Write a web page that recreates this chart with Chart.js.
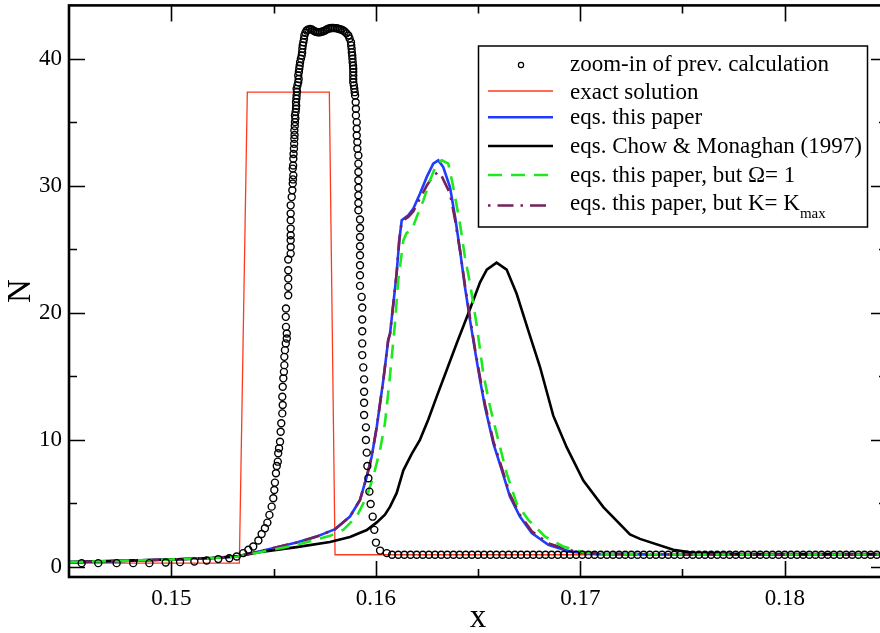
<!DOCTYPE html>
<html>
<head>
<meta charset="utf-8">
<title>N vs x</title>
<script src="https://cdn.jsdelivr.net/npm/chart.js@4.4.1/dist/chart.umd.min.js"></script>
<style>
  html, body { margin: 0; padding: 0; background: #fff; overflow: hidden; }
  #wrap { width: 900px; height: 633px; }
</style>
</head>
<body>
<div id="wrap"><canvas id="shockChart" width="900" height="633"></canvas></div>
<script>
// --- AXES ---
const xRange = [0.145, 0.185];
const nRange = [-0.8, 44.2];
const xTickValues = [0.15, 0.16, 0.17, 0.18];
const xTickLabels = ['0.15', '0.16', '0.17', '0.18'];
const xMinorTicks = [0.155, 0.165, 0.175];
const nTickValues = [0, 10, 20, 30, 40];
const nTickLabels = ['0', '10', '20', '30', '40'];
const nMinorTicks = [5, 15, 25, 35];

// --- SERIES NAMES (legend order) ---
const seriesNames = [
    'zoom-in of prev. calculation',
    'exact solution',
    'eqs. this paper',
    'eqs. Chow & Monaghan (1997)',
    'eqs. this paper, but \u03A9= 1',
    'eqs. this paper, but K= K'
];
const lastNameSub = 'max';

// --- zoom-in of previous calculation (particles, [x, N]) ---
const prevCalc = [
    [0.14562,0.29],[0.14643,0.29],[0.14733,0.29],[0.14814,0.29],[0.14893,0.29],[0.14973,0.34],
    [0.15043,0.37],[0.15113,0.42],[0.15173,0.50],[0.15230,0.61],[0.15284,0.68],
    [0.15320,0.81],[0.15352,1.08],[0.15377,1.34],[0.15401,1.60],[0.15426,2.07],[0.15442,2.59],
    [0.15458,3.04],[0.15470,3.48],[0.15480,4.09],[0.15491,4.74],[0.15499,5.40],[0.15504,6.05],
    [0.15507,6.63],[0.15512,7.37],[0.15516,7.94],[0.15521,8.28],[0.15523,8.94],[0.15527,9.33],
    [0.15532,9.85],[0.15535,10.64],[0.15538,11.30],[0.15543,12.08],[0.15545,12.74],[0.15543,13.39],
    [0.15545,14.18],[0.15548,14.84],[0.15551,15.35],[0.15553,15.88],[0.15553,16.53],[0.15556,17.06],
    [0.15560,17.59],[0.15565,17.98],[0.15565,18.37],[0.15561,18.89],[0.15560,19.68],[0.15561,20.34],
    [0.15572,21.38],[0.15572,22.04],[0.15572,22.70],[0.15572,23.35],[0.15572,24.19],[0.15584,24.66],
    [0.15584,25.18],[0.15584,25.71],[0.15584,26.10],[0.15584,26.63],[0.15584,27.28],[0.15584,27.81],
    [0.15584,28.46],[0.15589,29.11],[0.15592,29.64],[0.15594,30.17],[0.15595,30.50],[0.15597,30.82],
    [0.15594,31.35],[0.15596,31.60],[0.15597,32.13],[0.15598,32.50],[0.15600,32.92],[0.15601,33.30],
    [0.15602,33.70],[0.15603,34.00],[0.15602,34.36],[0.15604,34.70],[0.15605,35.01],[0.15607,35.30],
    [0.15605,35.54],[0.15608,35.80],[0.15610,36.06],[0.15611,36.30],[0.15610,36.58],[0.15612,36.85],
    [0.15613,37.11],[0.15615,37.40],[0.15613,37.63],[0.15617,37.90],[0.15621,38.15],[0.15623,38.40],
    [0.15621,38.68],[0.15624,38.95],[0.15626,39.21],[0.15628,39.45],[0.15630,39.73],[0.15634,40.00],
    [0.15638,40.25],[0.15640,40.50],[0.15641,40.78],[0.15643,41.05],[0.15646,41.30],[0.15649,41.55],
    [0.15651,41.83],[0.15656,42.05],
    // dense plateau
    [0.15662,42.22],[0.15670,42.30],[0.15679,42.35],[0.15687,42.30],[0.15695,42.22],[0.15703,42.14],
    [0.15711,42.10],[0.15719,42.08],[0.15727,42.09],[0.15735,42.12],[0.15744,42.17],[0.15752,42.22],
    [0.15760,42.30],[0.15768,42.36],[0.15776,42.40],[0.15784,42.42],[0.15792,42.42],[0.15800,42.41],
    [0.15809,42.40],[0.15817,42.36],[0.15825,42.32],[0.15833,42.28],[0.15841,42.22],[0.15849,42.12],
    [0.15857,42.00],[0.15866,41.83],[0.15872,41.60],[0.15879,41.30],
    // falling side
    [0.15880,41.05],[0.15882,40.78],[0.15883,40.50],[0.15885,40.25],[0.15886,40.00],[0.15887,39.73],
    [0.15889,39.45],[0.15890,39.21],[0.15890,38.95],[0.15890,38.68],[0.15890,38.40],[0.15890,38.15],
    [0.15893,37.90],[0.15895,37.63],[0.15897,37.37],[0.15899,37.11],[0.15902,36.58],[0.15903,36.06],
    [0.15903,35.54],[0.15907,35.01],[0.15907,34.49],[0.15907,33.96],[0.15910,33.44],[0.15910,32.92],
    [0.15915,32.39],[0.15915,31.74],[0.15915,31.08],[0.15915,30.43],[0.15915,29.85],[0.15915,29.25],
    [0.15915,28.64],[0.15915,28.07],[0.15923,27.34],[0.15923,26.68],[0.15923,25.97],[0.15923,25.24],
    [0.15923,24.53],[0.15923,23.74],[0.15923,22.96],[0.15923,22.12],[0.15931,21.25],[0.15934,20.42],
    [0.15934,19.47],[0.15934,18.55],[0.15934,17.59],[0.15934,16.67],[0.15939,15.70],[0.15943,14.76],
    [0.15943,13.78],[0.15943,12.92],[0.15943,11.95],[0.15952,10.98],[0.15952,9.98],[0.15956,8.99],
    [0.15959,7.94],[0.15964,6.97],[0.15969,5.92],[0.15975,4.95],[0.15985,3.95],[0.15993,2.91],
    [0.16001,1.91],[0.16021,1.28],[0.16054,1.08],
    // undisturbed region
    [0.1608,0.95],[0.1611,0.95],[0.1614,0.95],[0.1617,0.95],[0.1620,0.95],[0.1623,0.95],[0.1626,0.95],
    [0.1629,0.95],[0.1632,0.95],[0.1635,0.95],[0.1638,0.95],[0.1641,0.95],[0.1644,0.95],[0.1647,0.95],
    [0.1650,0.95],[0.1653,0.95],[0.1656,0.95],[0.1659,0.95],[0.1662,0.95],[0.1665,0.95],[0.1668,0.95],
    [0.1671,0.95],[0.1674,0.95],[0.1677,0.95],[0.1680,0.95],[0.1683,0.95],[0.1686,0.95],[0.1689,0.95],
    [0.1692,0.95],[0.1695,0.95],[0.1698,0.95],[0.1701,0.95],[0.1704,0.95],[0.1707,0.95],[0.1710,0.95],
    [0.1713,0.95],[0.1716,0.95],[0.1719,0.95],[0.1722,0.95],[0.1725,0.95],[0.1728,0.95],[0.1731,0.95],
    [0.1734,0.95],[0.1737,0.95],[0.1740,0.95],[0.1743,0.95],[0.1746,0.95],[0.1749,0.95],[0.1752,0.95],
    [0.1755,0.95],[0.1758,0.95],[0.1761,0.95],[0.1764,0.95],[0.1767,0.95],[0.1770,0.95],[0.1773,0.95],
    [0.1776,0.95],[0.1779,0.95],[0.1782,0.95],[0.1785,0.95],[0.1788,0.95],[0.1791,0.95],[0.1794,0.95],
    [0.1797,0.95],[0.1800,0.95],[0.1803,0.95],[0.1806,0.95],[0.1809,0.95],[0.1812,0.95],[0.1815,0.95],
    [0.1818,0.95],[0.1821,0.95],[0.1824,0.95],[0.1827,0.95],[0.1830,0.95],[0.1833,0.95],[0.1836,0.95],
    [0.1839,0.95],[0.1842,0.95],[0.1845,0.95],[0.1848,0.95]
];

// --- exact solution ---
const exactX = [0.145, 0.15333, 0.15372, 0.15773, 0.15801, 0.185];
const exactN = [0.29, 0.29, 37.37, 37.37, 0.95, 0.95];

// --- eqs. this paper ---
const paperX = [0.1450, 0.1475, 0.1500, 0.1520, 0.15322, 0.1545, 0.15613, 0.15711, 0.15801, 0.15874,
    0.15923, 0.15956, 0.1598, 0.16005, 0.16037, 0.16061, 0.1607, 0.16086, 0.16102, 0.16115,
    0.16127, 0.16159, 0.16184, 0.16216, 0.16249, 0.16281, 0.16306, 0.1633, 0.16363, 0.16388,
    0.16412, 0.16436, 0.16461, 0.16485, 0.1651, 0.16534, 0.16575, 0.16616, 0.16656, 0.16705,
    0.16763, 0.16844, 0.1695, 0.1708, 0.1750, 0.1850];
const paperN = [0.37, 0.47, 0.58, 0.7, 0.82, 1.28, 1.91, 2.38, 2.96, 3.96,
    5.27, 7.1, 8.67, 11.03, 14.7, 17.85, 18.37, 20.73, 23.09, 25.7,
    27.28, 27.67, 28.2, 29.38, 30.68, 31.74, 32.0, 31.47, 29.9, 27.54,
    24.92, 22.04, 19.42, 17.06, 14.7, 12.6, 9.72, 7.63, 5.53, 3.96,
    2.65, 1.73, 1.2, 1.02, 0.97, 0.97];

// --- eqs. Chow & Monaghan (1997) ---
const chowX = [0.1450, 0.1475, 0.1500, 0.1520, 0.15322, 0.1545, 0.15613, 0.15776, 0.15874, 0.15956,
    0.16005, 0.16045, 0.1607, 0.16102, 0.16135, 0.16176, 0.16216, 0.16257, 0.16298, 0.16347,
    0.16396, 0.16425, 0.16461, 0.1651, 0.16543, 0.16591, 0.1664, 0.16689, 0.16746, 0.16803,
    0.16868, 0.16934, 0.17015, 0.17113, 0.17243, 0.17292, 0.17455, 0.17553, 0.1780, 0.1850];
const chowN = [0.37, 0.47, 0.58, 0.7, 0.82, 1.2, 1.55, 1.95, 2.35, 2.9,
    3.5, 4.1, 4.74, 5.8, 7.6, 8.9, 10.0, 11.6, 13.4, 15.5,
    17.6, 18.8, 20.3, 22.4, 23.4, 23.95, 23.4, 21.5, 18.6, 15.75,
    11.9, 9.4, 6.8, 4.7, 2.55, 2.2, 1.35, 1.1, 1.0, 1.0];

// --- eqs. this paper, Omega = 1 ---
const omegaX = [0.1450, 0.1475, 0.1500, 0.1520, 0.15322, 0.1545, 0.15613, 0.15776, 0.15841, 0.15907,
    0.15956, 0.15988, 0.16021, 0.16045, 0.16066, 0.16094, 0.1611, 0.16135, 0.16151, 0.16176,
    0.162, 0.16233, 0.16265, 0.16298, 0.16323, 0.16355, 0.16379, 0.16412, 0.16436, 0.16461,
    0.16494, 0.16526, 0.16559, 0.16599, 0.1664, 0.16689, 0.16746, 0.16828, 0.16917, 0.17015,
    0.17113, 0.1750, 0.1850];
const omegaN = [0.37, 0.47, 0.58, 0.7, 0.8, 1.2, 1.73, 2.44, 2.91, 3.96,
    5.53, 7.1, 9.2, 11.3, 14.44, 19.16, 22.56, 25.7, 26.28, 26.5,
    27.54, 28.85, 30.42, 31.74, 32.0, 31.74, 29.9, 27.0, 24.4, 22.3,
    19.0, 15.2, 12.6, 9.98, 7.37, 5.0, 3.7, 2.38, 1.6, 1.15,
    1.02, 0.97, 0.97];

// --- eqs. this paper, K = Kmax ---
const kmaxX = [0.1450, 0.1475, 0.1500, 0.1520, 0.15322, 0.1545, 0.15613, 0.15711, 0.15801, 0.15874,
    0.15923, 0.15956, 0.1598, 0.16005, 0.16037, 0.16061, 0.1607, 0.16086, 0.16102, 0.16115,
    0.16127, 0.16159, 0.16184, 0.16216, 0.16249, 0.16281, 0.16306, 0.16318, 0.1633, 0.16363,
    0.16388, 0.16412, 0.16436, 0.16461, 0.16485, 0.1651, 0.16534, 0.16575, 0.16616, 0.16656,
    0.16705, 0.16763, 0.16844, 0.1695, 0.1708, 0.1750, 0.1850];
const kmaxN = [0.37, 0.47, 0.58, 0.7, 0.82, 1.28, 1.91, 2.38, 2.96, 3.96,
    5.27, 7.1, 8.67, 11.03, 14.7, 17.85, 18.37, 20.73, 23.09, 25.7,
    27.2, 27.55, 28.0, 29.0, 30.0, 30.8, 31.08, 30.9, 30.5, 29.4,
    27.3, 24.9, 22.2, 19.6, 17.2, 14.9, 12.8, 9.9, 7.8, 5.7,
    4.1, 2.8, 1.85, 1.3, 1.03, 0.97, 0.97];

const SERIF = '"Liberation Serif", "DejaVu Serif", serif';

function toPoints(xs, ys) {
    return xs.map((x, i) => ({ x: x, y: ys[i] }));
}

function lineSet(label, xs, ys, color, width, dash, order) {
    return {
        label: label,
        data: toPoints(xs, ys),
        borderColor: color,
        borderWidth: width,
        borderDash: dash,
        pointRadius: 0,
        fill: false,
        tension: 0,
        order: order
    };
}

// --- FRAME WITH INWARD TICKS ON ALL FOUR SIDES ---
const framePlugin = {
    id: 'frame',
    afterDatasetsDraw(chart) {
        const { ctx, chartArea: a, scales } = chart;
        const xs = scales.x, ys = scales.y;
        ctx.save();
        ctx.strokeStyle = '#000';
        ctx.lineWidth = 1.6;
        ctx.beginPath();
        const xTick = (v, len) => {
            const p = Math.round(xs.getPixelForValue(v)) + 0.5;
            ctx.moveTo(p, a.bottom); ctx.lineTo(p, a.bottom - len);
            ctx.moveTo(p, a.top); ctx.lineTo(p, a.top + len);
        };
        const yTick = (v, len) => {
            const p = Math.round(ys.getPixelForValue(v)) + 0.5;
            ctx.moveTo(a.left, p); ctx.lineTo(a.left + len, p);
            ctx.moveTo(a.right, p); ctx.lineTo(a.right - len, p);
        };
        xTickValues.forEach(v => xTick(v, 16));
        xMinorTicks.forEach(v => xTick(v, 8));
        nTickValues.forEach(v => yTick(v, 16));
        nMinorTicks.forEach(v => yTick(v, 8));
        ctx.stroke();
        ctx.lineWidth = 2.6;
        ctx.strokeRect(a.left, a.top, a.right - a.left, a.bottom - a.top);
        ctx.restore();
    }
};

// --- BOXED LEGEND (drawn from the dataset styles) ---
const legendPlugin = {
    id: 'boxLegend',
    afterDraw(chart) {
        const ctx = chart.ctx;
        const box = { left: 478.5, top: 46, right: 867.5, bottom: 227 };
        const symbolY = [65, 91, 117.3, 146, 175, 205.5];
        const textY = [70.5, 99, 123.5, 153, 181.5, 210];
        ctx.save();
        ctx.fillStyle = '#fff';
        ctx.fillRect(box.left, box.top, box.right - box.left, box.bottom - box.top);
        ctx.strokeStyle = '#000';
        ctx.lineWidth = 1.5;
        ctx.strokeRect(box.left, box.top, box.right - box.left, box.bottom - box.top);

        chart.data.datasets.forEach((ds, i) => {
            const y = symbolY[i];
            if (ds.showLine === false) {
                ctx.beginPath();
                ctx.arc(521, y, 2.6, 0, Math.PI * 2);
                ctx.lineWidth = 1.2;
                ctx.strokeStyle = '#000';
                ctx.stroke();
            } else {
                ctx.beginPath();
                ctx.setLineDash(ds.borderDash || []);
                ctx.lineWidth = ds.borderWidth;
                ctx.strokeStyle = ds.borderColor;
                ctx.moveTo(488, y);
                ctx.lineTo(553, y);
                ctx.stroke();
                ctx.setLineDash([]);
            }
            ctx.fillStyle = '#000';
            ctx.font = '23px ' + SERIF;
            ctx.textBaseline = 'alphabetic';
            ctx.textAlign = 'left';
            ctx.fillText(ds.label, 570, textY[i]);
            if (i === seriesNames.length - 1) {
                const w = ctx.measureText(ds.label).width;
                ctx.font = '15px ' + SERIF;
                ctx.fillText(lastNameSub, 570 + w, textY[i] + 8);
            }
        });
        ctx.restore();
    }
};

const ctx = document.getElementById('shockChart').getContext('2d');

new Chart(ctx, {
    type: 'line',
    data: {
        datasets: [
            {
                label: seriesNames[0],
                data: prevCalc.map(p => ({ x: p[0], y: p[1] })),
                showLine: false,
                pointStyle: 'circle',
                pointRadius: 3.5,
                pointBorderWidth: 1.4,
                pointBorderColor: '#000',
                pointBackgroundColor: 'rgba(255,255,255,0)',
                order: 0
            },
            lineSet(seriesNames[1], exactX, exactN, '#ff3a1c', 1.3, [], 5),
            lineSet(seriesNames[2], paperX, paperN, '#1f3cff', 2.6, [], 4),
            lineSet(seriesNames[3], chowX, chowN, '#000000', 2.6, [], 3),
            lineSet(seriesNames[4], omegaX, omegaN, '#1ee81e', 2.6, [14, 9], 1),
            lineSet(seriesNames[5], kmaxX, kmaxN, '#74215e', 2.6, [2.5, 7, 16, 7], 2)
        ]
    },
    options: {
        responsive: false,
        animation: false,
        devicePixelRatio: 1,
        layout: { padding: { top: 5, right: 13, left: 0, bottom: 0 } },
        plugins: {
            legend: { display: false },
            tooltip: { enabled: false }
        },
        scales: {
            x: {
                type: 'linear',
                min: xRange[0],
                max: xRange[1],
                grid: { display: false, drawTicks: false },
                border: { display: false },
                afterBuildTicks: s => { s.ticks = xTickValues.map(v => ({ value: v })); },
                afterFit: s => { s.height = 56; s.paddingLeft = 0; s.paddingRight = 0; },
                ticks: {
                    color: '#000',
                    padding: 8,
                    maxRotation: 0,
                    autoSkip: false,
                    font: { family: SERIF, size: 23 },
                    callback: (v, i) => xTickLabels[i]
                },
                title: {
                    display: true,
                    text: 'x',
                    color: '#000',
                    padding: 0,
                    font: { family: SERIF, size: 33, lineHeight: 0.9 }
                }
            },
            y: {
                type: 'linear',
                min: nRange[0],
                max: nRange[1],
                grid: { display: false, drawTicks: false },
                border: { display: false },
                afterBuildTicks: s => { s.ticks = nTickValues.map(v => ({ value: v })); },
                afterFit: s => { s.width = 69; s.paddingTop = 0; s.paddingBottom = 0; },
                ticks: {
                    color: '#000',
                    padding: 7,
                    autoSkip: false,
                    font: { family: SERIF, size: 23 },
                    callback: (v, i) => nTickLabels[i]
                },
                title: {
                    display: true,
                    text: 'N',
                    color: '#000',
                    padding: { top: 2 },
                    font: { family: SERIF, size: 33, lineHeight: 1.2 }
                }
            }
        }
    },
    plugins: [framePlugin, legendPlugin]
});
</script>
</body>
</html>
